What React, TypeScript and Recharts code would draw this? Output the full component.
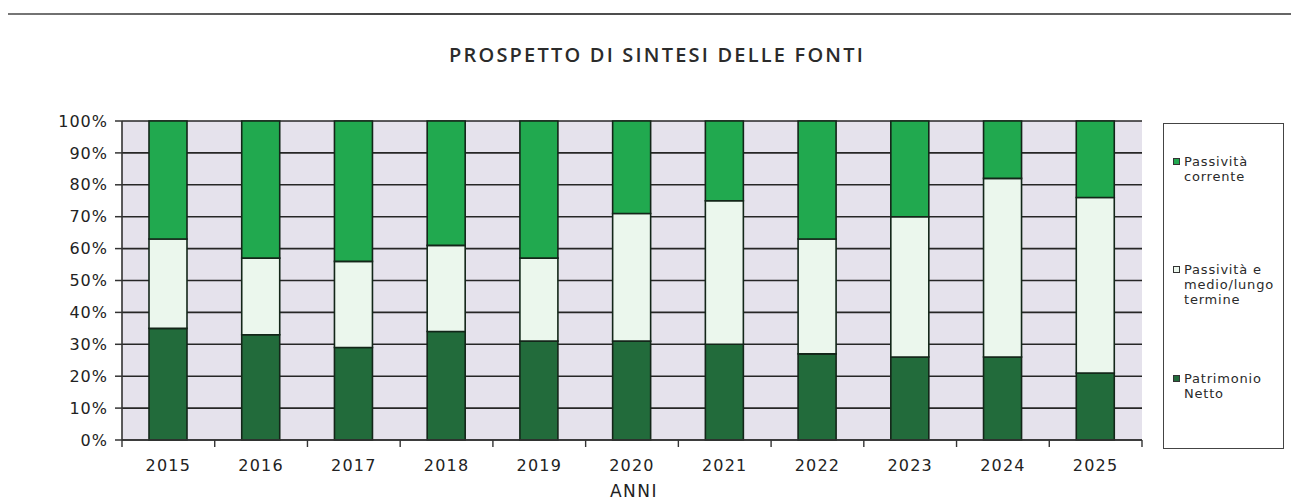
import { BarChart, Bar, XAxis, YAxis, CartesianGrid, Legend } from "recharts";

// data (percent of total sources)
const YEARS = ["2015", "2016", "2017", "2018", "2019", "2020", "2021", "2022", "2023", "2024", "2025"];
const PATRIMONIO_NETTO = [35, 33, 29, 34, 31, 31, 30, 27, 26, 26, 21];
const PASSIVITA_MEDIO_LUNGO = [28, 24, 27, 27, 26, 40, 45, 36, 44, 56, 55];
const PASSIVITA_CORRENTI = [37, 43, 44, 39, 43, 29, 25, 37, 30, 18, 24];
const Y_TICKS = [0, 10, 20, 30, 40, 50, 60, 70, 80, 90, 100];

const SERIES = [
  { key: "corrente", name: "Passività corrente", color: "#21a94f" },
  { key: "medio", name: "Passività e medio/lungo termine", color: "#ebf7ed" },
  { key: "netto", name: "Patrimonio Netto", color: "#226b3b" },
];

const data = YEARS.map((year, i) => ({
  year,
  netto: PATRIMONIO_NETTO[i],
  medio: PASSIVITA_MEDIO_LUNGO[i],
  corrente: PASSIVITA_CORRENTI[i],
}));

const W = 1291;
const H = 503;
const MARGIN = { top: 121, right: 149, bottom: 0, left: 3 };
const Y_AXIS_W = 119;
const X_AXIS_H = 63;
const AXIS_Y = H - MARGIN.bottom - X_AXIS_H;
const BAND = (W - MARGIN.right - MARGIN.left - Y_AXIS_W) / YEARS.length;
const FONT = "'DejaVu Sans', sans-serif";

function YearTick(props: any) {
  const { x, payload, index } = props;
  return (
    <g>
      <line x1={x - BAND / 2} x2={x - BAND / 2} y1={AXIS_Y} y2={AXIS_Y + 7} stroke="#333" strokeWidth={1.4} />
      {index === YEARS.length - 1 && (
        <line x1={x + BAND / 2} x2={x + BAND / 2} y1={AXIS_Y} y2={AXIS_Y + 7} stroke="#333" strokeWidth={1.4} />
      )}
      <text
        x={x}
        y={AXIS_Y + 31}
        textAnchor="middle"
        fontFamily={FONT}
        fontSize={16}
        letterSpacing={1.2}
        fill="#222"
      >
        {payload.value}
      </text>
    </g>
  );
}

function LegendBox() {
  const gaps = [30, 78, 64];
  return (
    <div
      style={{
        width: 119,
        height: 324,
        border: "1px solid #444",
        background: "#fff",
        fontFamily: FONT,
        fontSize: 13,
        letterSpacing: 0.8,
        lineHeight: "15px",
        color: "#2a2a2a",
      }}
    >
      {SERIES.map((s, i) => (
        <div key={s.key} style={{ position: "relative", marginTop: gaps[i], paddingLeft: 20, width: 98 }}>
          <span
            style={{
              position: "absolute",
              left: 9,
              top: 4,
              width: 5,
              height: 5,
              background: s.color,
              border: "1px solid #333",
            }}
          />
          {s.name}
        </div>
      ))}
    </div>
  );
}

export default function App() {
  return (
    <div style={{ position: "absolute", left: 0, top: 0, width: W, height: H, background: "#fff" }}>
      <div
        style={{
          position: "absolute",
          left: 8,
          top: 13,
          width: W - 8,
          height: 2,
          background: "linear-gradient(90deg, #777 0%, #444 30%, #555 60%, #666 100%)",
        }}
      />
      <div
        style={{
          position: "absolute",
          left: 0,
          top: 43,
          width: 1314,
          textAlign: "center",
          fontFamily: "'Open Sans', sans-serif",
          fontWeight: 600,
          fontSize: 20,
          letterSpacing: 2.2,
          lineHeight: "24px",
          color: "#2b2b2b",
        }}
      >
        PROSPETTO DI SINTESI DELLE FONTI
      </div>
      <BarChart width={W} height={H} data={data} margin={MARGIN} barSize={38}>
        <CartesianGrid vertical={false} stroke="#262626" strokeWidth={1.6} fill="#e5e2ec" fillOpacity={1} />
        <XAxis
          dataKey="year"
          height={X_AXIS_H}
          interval={0}
          tickLine={false}
          axisLine={{ stroke: "#333", strokeWidth: 1.6 }}
          tick={<YearTick />}
        />
        <YAxis
          width={Y_AXIS_W}
          domain={[0, 100]}
          ticks={Y_TICKS}
          tickFormatter={(v) => `${v}%`}
          tickSize={7}
          tickMargin={7}
          axisLine={{ stroke: "#333", strokeWidth: 1.6 }}
          tickLine={{ stroke: "#333", strokeWidth: 1.5 }}
          tick={{ fontFamily: FONT, fontSize: 16, letterSpacing: 1, fill: "#222" }}
        />
        <YAxis yAxisId="right" orientation="right" width={0} tick={false} tickLine={false} axisLine={{ stroke: "#777", strokeWidth: 2 }} />
        <Legend
          layout="vertical"
          align="center"
          verticalAlign="middle"
          wrapperStyle={{ left: 1163, top: 123, width: 121, height: 326 }}
          content={() => <LegendBox />}
        />
        <Bar dataKey="netto" name="Patrimonio Netto" stackId="a" fill="#226b3b" stroke="#132619" strokeWidth={1.6} isAnimationActive={false} />
        <Bar dataKey="medio" name="Passività e medio/lungo termine" stackId="a" fill="#ebf7ed" stroke="#132619" strokeWidth={1.6} isAnimationActive={false} />
        <Bar dataKey="corrente" name="Passività corrente" stackId="a" fill="#21a94f" stroke="#132619" strokeWidth={1.6} isAnimationActive={false} />
      </BarChart>
      <div
        style={{
          position: "absolute",
          left: 534,
          top: 481,
          width: 200,
          textAlign: "center",
          fontFamily: FONT,
          fontSize: 17,
          letterSpacing: 1.5,
          lineHeight: "20px",
          color: "#222",
        }}
      >
        ANNI
      </div>
    </div>
  );
}
